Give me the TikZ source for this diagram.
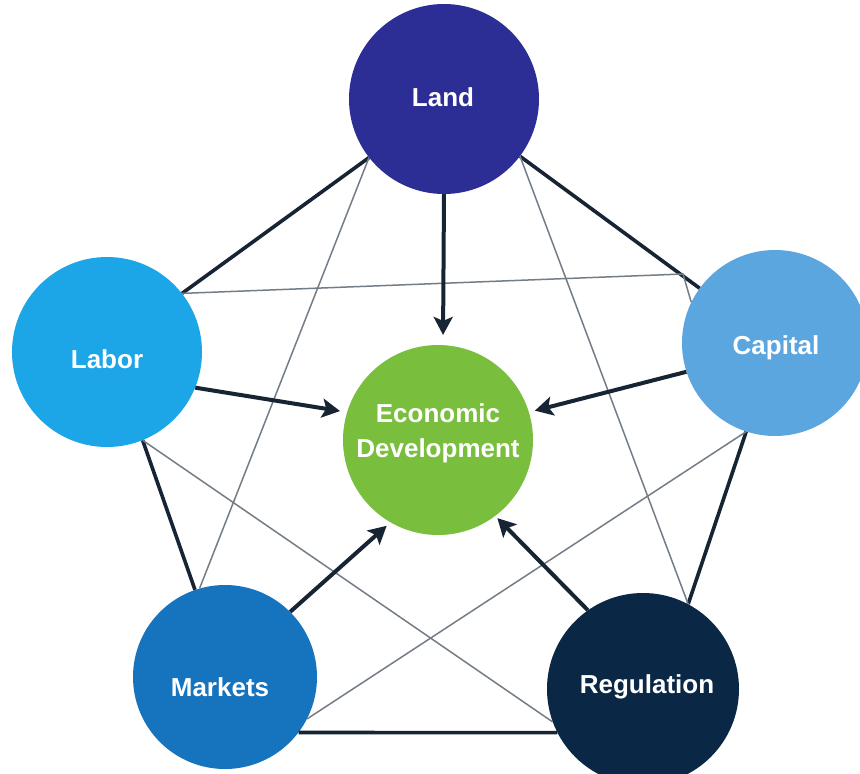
\documentclass[tikz,border=0pt]{standalone}
\usepackage{fontspec}
\setmainfont{Liberation Sans}
\usetikzlibrary{arrows.meta}
\definecolor{landc}{RGB}{45,45,150}
\definecolor{laborc}{RGB}{28,166,232}
\definecolor{capc}{RGB}{92,166,224}
\definecolor{mktc}{RGB}{22,115,190}
\definecolor{regc}{RGB}{10,40,70}
\definecolor{econc}{RGB}{122,190,62}
\definecolor{thickc}{RGB}{22,36,52}
\definecolor{thinc}{RGB}{115,125,135}
\tikzset{
  ball/.style={circle, inner sep=0pt, draw=none},
  lbl/.style={text=white, font=\fontsize{26}{35}\selectfont\bfseries, align=center, inner sep=0pt},
  thickline/.style={draw=thickc, line width=3.6pt},
  thinline/.style={draw=thinc, line width=1.5pt},
  arr/.style={draw=thickc, line width=4pt, -{Stealth[length=18pt,width=19pt,inset=4pt]}}
}
\begin{document}
\begin{tikzpicture}[x=1pt,y=-1pt]
\useasboundingbox (0,0) rectangle (860,774);
\clip (0,0) rectangle (860,774);
\fill[white] (0,0) rectangle (860,774);
% circles
\node[ball, fill=landc, minimum size=190pt] (land) at (444,99) {};
\node[ball, fill=laborc, minimum size=190pt] (lab) at (107,352) {};
\node[ball, fill=capc, minimum size=186pt] (cap) at (775,343) {};
\node[ball, fill=mktc, minimum size=184pt] (mkt) at (225,677) {};
\node[ball, fill=regc, minimum size=192pt] (reg) at (643,689) {};
\node[ball, fill=econc, minimum size=190pt] (econ) at (438,440) {};
% labels
\node[lbl] (landt) at (443,97) {Land};
\node[lbl] (labt) at (107,359) {Labor};
\node[lbl] (capt) at (776,348) {Capital};
\node[lbl] (mktt) at (220,687) {Markets};
\node[lbl] (regt) at (647,687) {Regulation};
\node[lbl] (econt) at (438,433) {Economic\\Development};
% kink coordinate
\coordinate (kink) at (683,274);
% outer pentagon (thick)
\draw[thickline] (land.218) -- (lab.38);
\draw[thickline] (land.-37) -- (cap.144);
\draw[thickline] (lab.-68) -- (mkt.109);
\draw[thickline] (cap.252) -- (reg.62);
\draw[thickline] (mkt.-37.5) -- (reg.207.4);
% inner star (thin)
\draw[thinline] (lab.38) -- (kink) -- (cap.154);
\draw[thinline] (land.218) -- (mkt.106);
\draw[thinline] (land.-37) -- (reg.62);
\draw[thinline] (lab.-68) -- (reg.200);
\draw[thinline] (cap.252) -- (mkt.-27);
% arrows to center
\draw[arr, shorten >=10pt] (land.-90) -- (econ.87);
\draw[arr, shorten >=7pt] (lab.-22) -- (econ.163);
\draw[arr, shorten >=6pt] (cap.198) -- (econ.17);
\draw[arr, shorten >=5pt] (mkt.45) -- (econ.240);
\draw[arr, shorten >=3pt] (reg.125) -- (econ.-53);
\end{tikzpicture}
\end{document}
